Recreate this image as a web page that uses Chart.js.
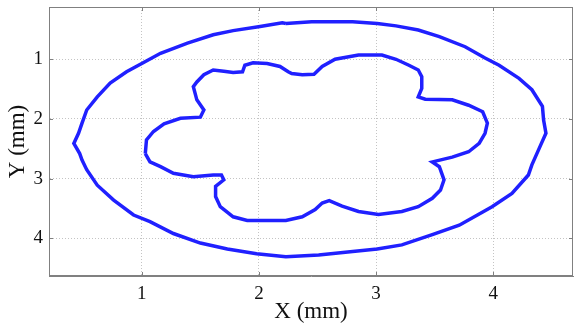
<!DOCTYPE html>
<html>
<head>
<meta charset="utf-8">
<script src="https://cdn.jsdelivr.net/npm/chart.js@4/dist/chart.umd.min.js"></script>
<style>
  html, body { margin: 0; padding: 0; background: #fff; }
  #wrap { width: 574px; height: 329px; }
</style>
</head>
<body>
<div id="wrap"><canvas id="chart" width="574" height="329"></canvas></div>
<script>
// Contours (mm)
const outerX = [2.23, 2.45, 2.80, 3.01, 3.17, 3.36, 3.54, 3.76, 3.93, 4.05, 4.22, 4.33, 4.42, 4.43, 4.45, 4.40,
  4.33, 4.30, 4.16, 3.99, 3.71, 3.48, 3.22, 3.01, 2.80, 2.51, 2.23, 1.98, 1.73, 1.50, 1.27, 1.07, 0.93,
  0.76, 0.62, 0.53, 0.49, 0.47, 0.42, 0.46, 0.49, 0.53, 0.62, 0.73, 0.87, 1.00, 1.16, 1.39, 1.61, 1.78,
  2.01, 2.20, 2.23];
const outerY = [0.40, 0.37, 0.37, 0.40, 0.44, 0.51, 0.62, 0.79, 0.98, 1.10, 1.32, 1.51, 1.79, 2.02, 2.24, 2.46,
  2.77, 2.94, 3.25, 3.47, 3.78, 3.94, 4.11, 4.18, 4.22, 4.28, 4.31, 4.26, 4.18, 4.08, 3.92, 3.72, 3.61,
  3.36, 3.11, 2.85, 2.69, 2.58, 2.41, 2.24, 2.07, 1.85, 1.63, 1.40, 1.21, 1.07, 0.90, 0.73, 0.59, 0.52,
  0.45, 0.39, 0.40];

const innerX = [1.03, 1.04, 1.10, 1.19, 1.33, 1.50, 1.53, 1.47, 1.44, 1.47, 1.53, 1.61, 1.70, 1.78, 1.86, 1.88,
  1.95, 2.07, 2.18, 2.25, 2.28, 2.37, 2.47, 2.54, 2.65, 2.85, 3.05, 3.17, 3.28, 3.36, 3.39, 3.39, 3.36,
  3.42, 3.65, 3.79, 3.91, 3.95, 3.93, 3.88, 3.79, 3.65, 3.48, 3.54, 3.58, 3.55, 3.48, 3.36, 3.22, 3.02,
  2.85, 2.71, 2.60, 2.54, 2.48, 2.37, 2.23, 1.90, 1.78, 1.67, 1.63, 1.63, 1.70, 1.68, 1.61, 1.44, 1.27,
  1.16, 1.07, 1.03];
const innerY = [2.58, 2.35, 2.21, 2.08, 1.99, 1.97, 1.85, 1.68, 1.46, 1.38, 1.26, 1.18, 1.20, 1.22, 1.21, 1.10,
  1.06, 1.07, 1.12, 1.21, 1.24, 1.26, 1.25, 1.12, 1.00, 0.93, 0.93, 1.00, 1.10, 1.18, 1.29, 1.49, 1.63,
  1.67, 1.68, 1.77, 1.88, 2.07, 2.24, 2.41, 2.55, 2.64, 2.72, 2.80, 3.02, 3.19, 3.33, 3.47, 3.55, 3.60,
  3.55, 3.46, 3.37, 3.41, 3.52, 3.64, 3.70, 3.70, 3.64, 3.47, 3.30, 3.13, 3.02, 2.94, 2.94, 2.97, 2.91,
  2.80, 2.72, 2.58];

const xTicks = [1, 2, 3, 4];
const yTicks = [1, 2, 3, 4];

const toPoints = (xs, ys) => xs.map((x, i) => ({ x: x, y: ys[i] }));

const serif = "'Liberation Serif', 'DejaVu Serif', serif";
const frameColor = '#808080';

// Box round the plot with short inward ticks, MATLAB style
const framePlugin = {
  id: 'frame',
  afterDraw(chart) {
    const { ctx, chartArea: a, scales } = chart;
    ctx.save();
    ctx.strokeStyle = frameColor;
    ctx.lineWidth = 1;
    ctx.strokeRect(a.left + 0.5, a.top + 0.5, a.right - a.left - 1, a.bottom - a.top - 1);
    ctx.beginPath();
    xTicks.forEach(v => {
      const px = Math.round(scales.x.getPixelForValue(v)) + 0.5;
      ctx.moveTo(px, a.bottom); ctx.lineTo(px, a.bottom - 4);
      ctx.moveTo(px, a.top); ctx.lineTo(px, a.top + 4);
    });
    yTicks.forEach(v => {
      const py = Math.round(scales.y.getPixelForValue(v)) + 0.5;
      ctx.moveTo(a.left, py); ctx.lineTo(a.left + 4, py);
      ctx.moveTo(a.right, py); ctx.lineTo(a.right - 4, py);
    });
    ctx.stroke();
    ctx.restore();
  }
};

new Chart(document.getElementById('chart'), {
  type: 'scatter',
  data: {
    datasets: [
      { data: toPoints(outerX, outerY) },
      { data: toPoints(innerX, innerY) }
    ].map(d => Object.assign(d, {
      showLine: true,
      borderColor: '#2020ff',
      borderWidth: 3.5,
      pointRadius: 0,
      tension: 0,
      fill: false
    }))
  },
  options: {
    responsive: false,
    animation: false,
    layout: { padding: { top: 7, right: 1, left: 0, bottom: 0 } },
    plugins: { legend: { display: false }, tooltip: { enabled: false } },
    scales: {
      x: {
        type: 'linear',
        min: 0.208,
        max: 4.681,
        afterBuildTicks: s => { s.ticks = xTicks.map(v => ({ value: v })); },
        afterFit: s => { s.height = 53; s.paddingLeft = 0; s.paddingRight = 0; },
        ticks: { color: '#111', font: { family: serif, size: 19 }, padding: 7, maxRotation: 0 },
        grid: { color: '#c4c4c4', drawTicks: false },
        border: { color: frameColor, dash: [1, 2] },
        title: { display: true, text: 'X (mm)', color: '#111', font: { family: serif, size: 23 }, padding: { top: 0, bottom: 3 } }
      },
      y: {
        type: 'linear',
        reverse: true,
        min: 0.124,
        max: 4.632,
        afterBuildTicks: s => { s.ticks = yTicks.map(v => ({ value: v })); },
        afterFit: s => { s.width = 49; s.paddingTop = 0; s.paddingBottom = 0; },
        ticks: { color: '#111', font: { family: serif, size: 19 }, padding: 6 },
        grid: { color: '#c4c4c4', drawTicks: false },
        border: { color: frameColor, dash: [1, 2] },
        title: { display: true, text: 'Y (mm)', color: '#111', font: { family: serif, size: 23 }, padding: { top: 4, bottom: 0 } }
      }
    }
  },
  plugins: [framePlugin]
});
</script>
</body>
</html>
